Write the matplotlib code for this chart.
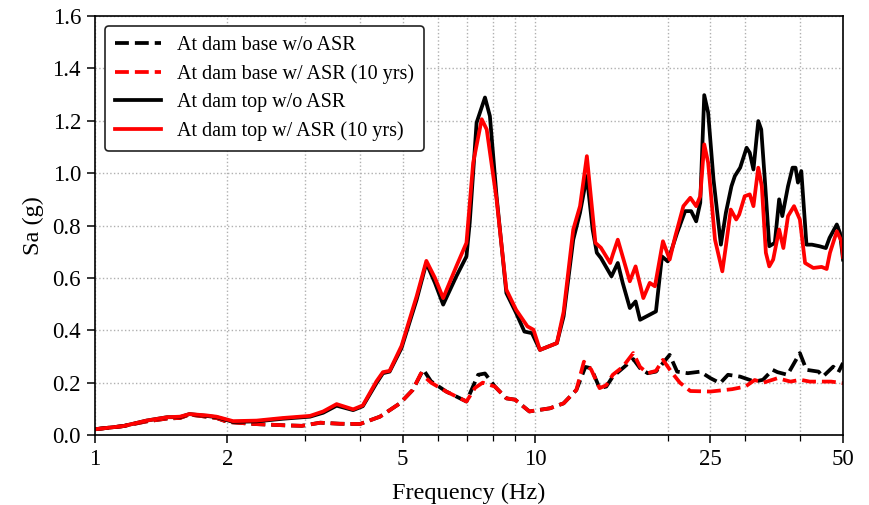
import matplotlib
matplotlib.use("Agg")
import matplotlib.pyplot as plt
from matplotlib.ticker import FixedLocator, NullFormatter, FixedFormatter

# ---- data ----
freq_base_noasr = [1.0, 1.16, 1.31, 1.46, 1.56, 1.64, 1.79, 1.89, 2.0, 2.3,
                   2.7, 2.95, 3.25, 3.6, 4.0, 4.44, 4.93, 5.27, 5.57, 5.8,
                   6.28, 6.98, 7.42, 7.69, 8.1, 8.6, 9.0, 9.7, 10.8, 11.6,
                   12.4, 13.0, 13.4, 14.0, 14.5, 15.0, 15.8, 16.7, 17.3, 18.0,
                   18.8, 20.2, 21.0, 22.2, 23.7, 25.0, 26.3, 27.4, 29.2, 31.5,
                   32.9, 34.6, 35.5, 37.4, 39.9, 41.3, 44.0, 45.0, 47.5, 48.8,
                   50.0]
sa_base_noasr = [0.022, 0.034, 0.052, 0.063, 0.065, 0.078, 0.07, 0.065, 0.05, 0.042,
                 0.037, 0.035, 0.047, 0.043, 0.042, 0.07, 0.121, 0.172, 0.25, 0.205,
                 0.166, 0.128, 0.23, 0.235, 0.185, 0.14, 0.135, 0.09, 0.102, 0.121,
                 0.172, 0.26, 0.255, 0.179, 0.185, 0.223, 0.255, 0.29, 0.255, 0.236,
                 0.242, 0.306, 0.242, 0.236, 0.242, 0.217, 0.198, 0.230, 0.223, 0.204,
                 0.211, 0.249, 0.24, 0.23, 0.313, 0.249, 0.242, 0.223, 0.261, 0.24,
                 0.275]

freq_base_asr = [1.0, 1.16, 1.31, 1.46, 1.56, 1.64, 1.79, 1.89, 2.0, 2.3,
                 2.7, 2.95, 3.25, 3.6, 4.0, 4.44, 4.93, 5.27, 5.5, 5.8,
                 6.28, 6.98, 7.3, 7.6, 8.1, 8.6, 9.0, 9.7, 10.8, 11.6,
                 12.4, 12.9, 13.4, 14.0, 14.5, 15.0, 15.8, 16.7, 17.3, 18.0,
                 18.8, 19.5, 20.4, 21.3, 22.5, 25.0, 28.0, 30.0, 31.5, 33.0,
                 35.5, 38.0, 40.0, 42.0, 44.5, 47.0, 50.0]
sa_base_asr = [0.022, 0.034, 0.052, 0.063, 0.065, 0.078, 0.07, 0.065, 0.05, 0.042,
               0.037, 0.035, 0.047, 0.043, 0.042, 0.07, 0.121, 0.172, 0.235, 0.2,
               0.166, 0.128, 0.18, 0.2, 0.185, 0.14, 0.135, 0.09, 0.102, 0.121,
               0.172, 0.28, 0.25, 0.179, 0.19, 0.23, 0.26, 0.313, 0.26, 0.236,
               0.245, 0.287, 0.24, 0.20, 0.168, 0.166, 0.175, 0.185, 0.21, 0.20,
               0.217, 0.204, 0.211, 0.204, 0.204, 0.204, 0.198]

freq_top_noasr = [1.0, 1.16, 1.31, 1.46, 1.56, 1.64, 1.79, 1.89, 2.06, 2.33,
                  2.67, 3.08, 3.30, 3.54, 3.86, 4.06, 4.36, 4.51, 4.67, 4.97,
                  5.38, 5.66, 5.92, 6.18, 6.62, 6.98, 7.10, 7.36, 7.69, 7.89,
                  8.17, 8.60, 9.05, 9.45, 9.83, 10.25, 11.2, 11.6, 12.2, 12.64,
                  13.1, 13.5, 13.8, 14.1, 14.9, 15.4, 15.8, 16.4, 16.9, 17.3,
                  18.8, 19.4, 20.0, 21.0, 21.9, 22.6, 23.2, 23.7, 24.2, 24.7,
                  25.4, 26.4, 27.1, 27.9, 28.4, 29.2, 30.2, 30.7, 31.3, 32.1,
                  32.6, 33.3, 34.0, 35.0, 35.8, 36.4, 37.5, 38.4, 39.0, 39.5,
                  40.2, 41.3, 42.5, 44.2, 45.7, 46.6, 48.4, 49.2, 50.0]
sa_top_noasr = [0.022, 0.034, 0.055, 0.068, 0.068, 0.080, 0.073, 0.068, 0.050, 0.052,
                0.062, 0.070, 0.085, 0.112, 0.095, 0.110, 0.198, 0.236, 0.242, 0.332,
                0.517, 0.657, 0.581, 0.498, 0.606, 0.682, 0.81, 1.193, 1.289, 1.218,
                0.912, 0.542, 0.466, 0.395, 0.389, 0.325, 0.351, 0.453, 0.746, 0.849,
                0.989, 0.785, 0.696, 0.676, 0.606, 0.657, 0.581, 0.485, 0.510, 0.44,
                0.472, 0.682, 0.663, 0.772, 0.855, 0.855, 0.816, 0.887, 1.298, 1.231,
                0.976, 0.727, 0.849, 0.950, 0.989, 1.021, 1.097, 1.078, 1.014, 1.199,
                1.167, 0.950, 0.721, 0.734, 0.90, 0.836, 0.950, 1.021, 1.021, 0.964,
                1.008, 0.727, 0.727, 0.721, 0.714, 0.753, 0.804, 0.772, 0.670]

freq_top_asr = [1.0, 1.16, 1.31, 1.46, 1.56, 1.64, 1.79, 1.89, 2.06, 2.33,
                2.67, 3.08, 3.30, 3.54, 3.86, 4.06, 4.36, 4.51, 4.67, 4.97,
                5.38, 5.66, 5.92, 6.18, 6.62, 6.98, 7.23, 7.56, 7.76, 8.17,
                8.60, 9.05, 9.6, 9.91, 10.25, 11.2, 11.6, 12.2, 12.64, 13.1, 13.7,
                14.1, 14.8, 15.0, 15.4, 16.4, 16.9, 17.6, 18.2, 18.7, 19.5,
                20.2, 20.8, 21.7, 22.5, 23.2, 23.7, 24.2, 24.7, 25.6, 26.6,
                27.1, 27.8, 28.6, 29.05, 29.9, 30.7, 31.3, 32.1, 32.7, 33.4,
                34.0, 34.7, 35.8, 36.6, 37.5, 38.7, 39.9, 41.0, 42.8, 44.7,
                45.9, 46.7, 48.4, 49.6, 50.0]
sa_top_asr = [0.022, 0.034, 0.055, 0.068, 0.070, 0.080, 0.075, 0.070, 0.053, 0.055,
              0.065, 0.073, 0.09, 0.118, 0.098, 0.113, 0.205, 0.240, 0.245, 0.34,
              0.53, 0.665, 0.60, 0.523, 0.644, 0.734, 1.04, 1.206, 1.167, 0.90,
              0.555, 0.478, 0.415, 0.402, 0.325, 0.351, 0.47, 0.785, 0.874, 1.065, 0.734,
              0.715, 0.657, 0.689, 0.746, 0.587, 0.644, 0.523, 0.581, 0.568, 0.740,
              0.670, 0.759, 0.874, 0.906, 0.874, 0.912, 1.110, 1.04, 0.746, 0.625,
              0.721, 0.861, 0.823, 0.842, 0.912, 0.919, 0.874, 1.021, 0.950, 0.696,
              0.644, 0.670, 0.785, 0.714, 0.836, 0.874, 0.823, 0.657, 0.638, 0.642,
              0.634, 0.696, 0.778, 0.740, 0.68]

labels = ["At dam base w/o ASR", "At dam base w/ ASR (10 yrs)",
          "At dam top w/o ASR", "At dam top w/ ASR (10 yrs)"]
major_ticks = [1, 2, 5, 10, 25, 50]
minor_ticks = [3, 4, 6, 7, 8, 9, 20, 30, 40]
y_ticks = [0.0, 0.2, 0.4, 0.6, 0.8, 1.0, 1.2, 1.4, 1.6]

# ---- plot ----
plt.rcParams['font.family'] = ['Liberation Serif', 'DejaVu Serif']

fig = plt.figure(figsize=(8.7, 5.05), dpi=100)
ax = fig.add_axes([0.109, 0.1386, 0.860, 0.8296])

lw = 2.7
ax.plot(freq_base_noasr, sa_base_noasr, color='black', ls='--', lw=lw, label=labels[0])
ax.plot(freq_base_asr, sa_base_asr, color='red', ls='--', lw=lw, label=labels[1])
ax.plot(freq_top_noasr, sa_top_noasr, color='black', ls='-', lw=lw, label=labels[2])
ax.plot(freq_top_asr, sa_top_asr, color='red', ls='-', lw=lw, label=labels[3])

ax.set_xscale('log')
ax.set_xlim(1, 50)
ax.set_ylim(0, 1.6)
ax.xaxis.set_major_locator(FixedLocator(major_ticks))
ax.xaxis.set_major_formatter(FixedFormatter([str(t) for t in major_ticks]))
ax.xaxis.set_minor_locator(FixedLocator(minor_ticks))
ax.xaxis.set_minor_formatter(NullFormatter())
ax.set_yticks(y_ticks)
ax.set_yticklabels([f"{v:.1f}" for v in y_ticks])

ax.tick_params(axis='both', which='major', labelsize=16.5, direction='out',
               length=6, width=1.1, pad=4)
ax.tick_params(axis='x', which='minor', direction='out', length=4, width=0.9)

ax.grid(True, which='both', axis='x', color='#b0b0b0', ls=':', lw=1.0)
ax.grid(True, which='major', axis='y', color='#b0b0b0', ls=':', lw=1.0)
ax.set_axisbelow(True)

for s in ax.spines.values():
    s.set_linewidth(1.2)
    s.set_color('black')

ax.set_xlabel("Frequency (Hz)", fontsize=17.5, labelpad=9)
ax.set_ylabel("Sa (g)", fontsize=17.5, labelpad=6)

leg = ax.legend(loc='upper left', fontsize=14.5, frameon=True, fancybox=True,
                edgecolor='#222222', framealpha=1.0, borderpad=0.5,
                handlelength=2.3, labelspacing=0.45, borderaxespad=0.5)
leg.get_frame().set_linewidth(1.2)

fig.savefig("out.png", dpi=100)
